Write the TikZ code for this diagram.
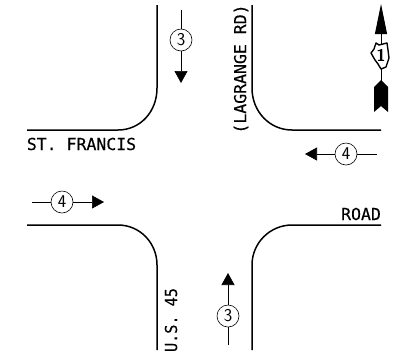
\documentclass[tikz,border=0pt]{standalone}
\usepackage{fontspec}
\setmonofont[FakeBold=0.4]{DejaVu Sans Mono}
\usetikzlibrary{arrows.meta,positioning}

\begin{document}
\begin{tikzpicture}
	% Styles
	[
	x=1pt,y=-1pt,
	curb/.style={line width=1.5pt},
	volume/.style={circle,draw,fill=white,line width=0.6pt,inner sep=0pt,minimum size=22pt,font=\fontsize{18}{18}\sffamily},
	flow/.style={line width=0.6pt,-{Triangle[length=12pt,width=13pt]}},
	stem/.style={line width=0.6pt},
	street/.style={inner sep=0pt,font=\fontsize{16.5}{16.5}\ttfamily},
	]
	\useasboundingbox (0,0) rectangle (393,360);

	% Curbs
	\draw[curb] (157,5) -- (157,88) .. controls (157,112) and (140,130) .. (118,130) -- (27,130);
	\draw[curb] (252,5) -- (252,88) .. controls (252,112) and (270,130) .. (292,130) -- (381,130);
	\draw[curb] (27,225) -- (118,225) .. controls (140,225) and (157,243) .. (157,265) -- (157,350);
	\draw[curb] (381,225) -- (292,225) .. controls (270,225) and (252,243) .. (252,265) -- (252,350);

	% Nodes
	\node at (181,40)	(v3n)	[volume] {3};
	\node at (62,202)	(v4w)	[volume] {4};
	\node at (228,316)	(v3s)	[volume] {3};
	\node at (346,154)	(v4e)	[volume] {4};
	\coordinate (s3n) at (181,10);
	\coordinate (t3n) at (181,83);
	\coordinate (s4w) at (32,202);
	\coordinate (t4w) at (104,202);
	\coordinate (s3s) at (228,345);
	\coordinate (t3s) at (228,273);
	\coordinate (s4e) at (377,154);
	\coordinate (t4e) at (305,154);

	\node at (81.5,144)	(stfrancis)	[street] {ST. FRANCIS};
	\node at (361,214)	(road)	[street] {ROAD};
	\node at (241,69)	(lagrange)	[street,rotate=90] {(LAGRANGE RD)};
	\node at (171,320)	(us45)	[street,rotate=90,xscale=0.92] {U.S. 45};

	% Connections
	\draw[stem] (s3n) -- (v3n);
	\draw[flow] (v3n) -- (t3n);
	\draw[stem] (s4w) -- (v4w);
	\draw[flow] (v4w) -- (t4w);
	\draw[stem] (s3s) -- (v3s);
	\draw[flow] (v3s) -- (t3s);
	\draw[stem] (s4e) -- (v4e);
	\draw[flow] (v4e) -- (t4e);

	% North arrow
	\coordinate (ntip) at (381,4);
	\coordinate (ntail) at (381,82);
	\draw[line width=1pt,-{Triangle[length=30pt,width=12pt]}] (ntail) -- (ntip);
	\fill (381,80) -- (388,87) -- (388,112) -- (381,106) -- (374,112) -- (374,87) -- cycle;
	\draw[line width=1.4pt,fill=white,line join=round] (376,43) -- (379,45) -- (387,43) -- (388,50) -- (389,58) -- (386,67) -- (381,69) -- (378,64) -- (375,60) -- (371,53) -- (374,49) -- cycle;
	\node at (381,55)	(route)	[inner sep=0pt,font=\fontsize{17}{17}\bfseries\sffamily] {1};
\end{tikzpicture}
\end{document}
